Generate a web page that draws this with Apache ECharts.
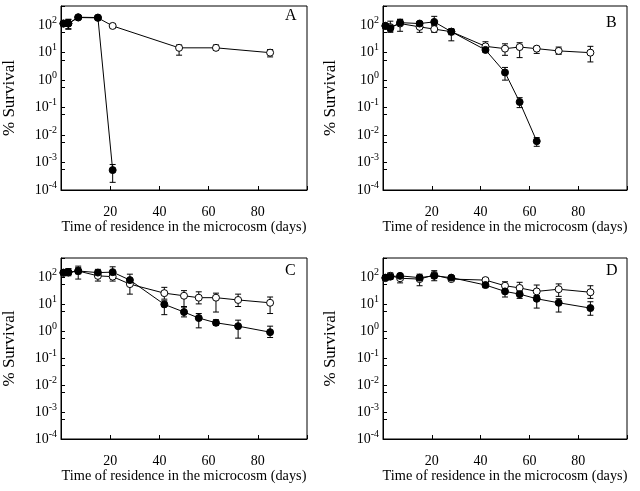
<!DOCTYPE html>
<html><head><meta charset="utf-8">
<script src="https://cdn.jsdelivr.net/npm/echarts@6/dist/echarts.min.js"></script>
<style>html,body{margin:0;padding:0;background:#fff}#c{width:640px;height:491px}</style>
</head><body><div id="c"></div>
<script>
// ---------- data ----------
const days = [1, 3, 7, 15, 21, 28, 42, 50, 56, 63, 72, 85];
const xTicks = [20, 40, 60, 80];
const yTickExponents = [-4, -3, -2, -1, 0, 1, 2];
const panelLetters = ['A', 'B', 'C', 'D'];

// Panel A
const aOpenDays = [1, 3, 7, 15, 21, 48, 63, 85];
const aOpen   = [115, 115, 190, 185, 94, 15, 15, 10];
const aOpenLo = [95, 75, 170, 160, 80, 8.1, 12, 7];
const aOpenHi = [135, 160, 210, 210, 110, 19, 19, 13];
const aFilledDays = [1, 3, 7, 15, 21];
const aFilled   = [115, 115, 195, 190, 5.3e-4];
const aFilledLo = [95, 71, 175, 165, 1.9e-4];
const aFilledHi = [135, 165, 215, 215, 8.5e-4];

// Panel B
const bOpen   = [95, 85, 115, 87, 72, 58, 17, 14, 16, 14, 11.6, 10];
const bOpenLo = [80, 55, 60, 55, 55, 27, 12, 8, 6.6, 9.4, 8.7, 4.6];
const bOpenHi = [115, 140, 160, 130, 100, 75, 25, 21, 23, 17, 16, 17];
const bFilledDays = [1, 3, 7, 15, 21, 28, 42, 50, 56, 63];
const bFilled   = [94, 78, 124, 115, 132, 58, 12.6, 1.9, 0.16, 0.006];
const bFilledLo = [80, 60, 100, 100, 100, 45, 10.5, 1.0, 0.1, 0.0039];
const bFilledHi = [110, 100, 165, 130, 210, 70, 15, 2.9, 0.23, 0.0081];

// Panel C
const cOpen   = [140, 145, 165, 109, 102, 54, 25, 20, 17, 17, 14, 11];
const cOpenLo = [120, 110, 83, 70, 70, 23, 15, 7.6, 10, 5, 8, 4.4];
const cOpenHi = [160, 200, 250, 140, 130, 80, 41, 31, 28, 25, 23, 18];
const cFilled   = [144, 150, 165, 144, 150, 76, 9.6, 5, 3.0, 2.0, 1.5, 0.9];
const cFilledLo = [125, 120, 130, 110, 110, 55, 4, 3.3, 1.3, 1.6, 0.54, 0.57];
const cFilledHi = [165, 200, 220, 190, 236, 126, 13, 8, 4.4, 2.6, 2.5, 1.5];

// Panel D
const dOpen   = [90, 110, 89, 83, 118, 83, 76, 47, 39, 29, 35, 27];
const dOpenLo = [75, 80, 60, 47, 90, 70, 65, 35, 29, 20, 19, 16];
const dOpenHi = [110, 140, 130, 126, 150, 100, 90, 66, 63, 50, 55, 47];
const dFilled   = [94, 102, 109, 94, 109, 94, 50, 29, 23, 15.5, 11, 7];
const dFilledLo = [80, 90, 95, 80, 72, 80, 40, 18, 16, 7, 5, 3.8];
const dFilledHi = [110, 120, 125, 110, 170, 110, 65, 41, 31, 20, 15.5, 12];

// ---------- layout ----------
const FONT = 'Liberation Serif';
const grids = [
  {left: 61, top: 6, width: 246, height: 184},
  {left: 383, top: 6, width: 244, height: 184},
  {left: 61, top: 258, width: 246, height: 181},
  {left: 383, top: 258, width: 244, height: 181}
];
const letterPos = [
  {left: 285, top: 8},
  {left: 606, top: 15},
  {left: 285, top: 263},
  {left: 606, top: 263}
];
const yNameGap = [43, 44, 43, 44];

const panels = [
  {od: aOpenDays, o: aOpen, ol: aOpenLo, oh: aOpenHi, fd: aFilledDays, f: aFilled, fl: aFilledLo, fh: aFilledHi},
  {od: days, o: bOpen, ol: bOpenLo, oh: bOpenHi, fd: bFilledDays, f: bFilled, fl: bFilledLo, fh: bFilledHi},
  {od: days, o: cOpen, ol: cOpenLo, oh: cOpenHi, fd: days, f: cFilled, fl: cFilledLo, fh: cFilledHi},
  {od: days, o: dOpen, ol: dOpenLo, oh: dOpenHi, fd: days, f: dFilled, fl: dFilledLo, fh: dFilledHi}
];

function errRender(params, api) {
  const x = api.value(0), lo = api.value(1), hi = api.value(2);
  const p1 = api.coord([x, lo]), p2 = api.coord([x, hi]);
  const w = 3;
  const st = {stroke: '#000', lineWidth: 1};
  return {type: 'group', children: [
    {type: 'line', shape: {x1: p1[0], y1: p1[1], x2: p2[0], y2: p2[1]}, style: st},
    {type: 'line', shape: {x1: p1[0] - w, y1: p1[1], x2: p1[0] + w, y2: p1[1]}, style: st},
    {type: 'line', shape: {x1: p2[0] - w, y1: p2[1], x2: p2[0] + w, y2: p2[1]}, style: st}
  ]};
}

const xAxes = [], yAxes = [], series = [], titles = [];
panels.forEach((p, i) => {
  xAxes.push({
    type: 'value', gridIndex: i, min: 0, max: 100, interval: 20,
    axisLine: {show: true, lineStyle: {color: '#000', width: 1}},
    axisTick: {show: true, inside: true, length: 4, lineStyle: {color: '#000'}},
    splitLine: {show: false},
    axisLabel: {
      margin: 15, color: '#000', fontFamily: FONT, fontSize: 14,
      formatter: v => xTicks.indexOf(v) >= 0 ? String(v) : ''
    },
    name: 'Time of residence in the microcosm (days)', nameLocation: 'middle', nameGap: 27,
    nameTextStyle: {color: '#000', fontFamily: FONT, fontSize: 14.3}
  });
  yAxes.push({
    type: 'log', logBase: 10, gridIndex: i, min: 1e-4, max: 500,
    axisLine: {show: true, lineStyle: {color: '#000', width: 1}},
    axisTick: {show: true, inside: true, length: 4, lineStyle: {color: '#000'}},
    minorTick: {show: true, splitNumber: 2, length: 4, lineStyle: {color: '#000'}},
    splitLine: {show: false}, minorSplitLine: {show: false},
    axisLabel: {
      margin: 4, showMaxLabel: false,
      formatter: v => {
        const e = Math.round(Math.log10(v));
        if (yTickExponents.indexOf(e) < 0 || Math.abs(Math.log10(v) - e) > 1e-6) return '';
        return '{b|10}{s|' + e + '}';
      },
      rich: {
        b: {fontFamily: FONT, fontSize: 14, color: '#000', lineHeight: 20},
        s: {fontFamily: FONT, fontSize: 10, color: '#000', lineHeight: 10, verticalAlign: 'top'}
      }
    },
    name: '% Survival', nameLocation: 'middle', nameGap: yNameGap[i],
    nameTextStyle: {color: '#000', fontFamily: FONT, fontSize: 17}
  });
  const errOpen = p.od.map((d, k) => [d, p.ol[k], p.oh[k]]);
  const errFilled = p.fd.map((d, k) => [d, p.fl[k], p.fh[k]]);
  series.push({type: 'custom', xAxisIndex: i, yAxisIndex: i, renderItem: errRender,
    data: errOpen, encode: {x: 0, y: [1, 2]}, z: 2, silent: true});
  series.push({type: 'custom', xAxisIndex: i, yAxisIndex: i, renderItem: errRender,
    data: errFilled, encode: {x: 0, y: [1, 2]}, z: 2, silent: true});
  series.push({type: 'line', xAxisIndex: i, yAxisIndex: i, z: 3,
    data: p.od.map((d, k) => [d, p.o[k]]),
    symbol: 'circle', symbolSize: 7, showSymbol: true,
    lineStyle: {color: '#000', width: 1},
    itemStyle: {color: '#fff', borderColor: '#000', borderWidth: 1}});
  series.push({type: 'line', xAxisIndex: i, yAxisIndex: i, z: 4,
    data: p.fd.map((d, k) => [d, p.f[k]]),
    symbol: 'circle', symbolSize: 7, showSymbol: true,
    lineStyle: {color: '#000', width: 1},
    itemStyle: {color: '#000', borderColor: '#000', borderWidth: 1}});
  titles.push({text: panelLetters[i], left: letterPos[i].left, top: letterPos[i].top, padding: 0,
    textStyle: {fontFamily: FONT, fontSize: 16, fontWeight: 'normal', color: '#000'}});
});

const chart = echarts.init(document.getElementById('c'), null, {renderer: 'canvas'});
chart.setOption({
  animation: false,
  backgroundColor: '#fff',
  title: titles,
  grid: grids.map(g => Object.assign({show: true, borderColor: '#000', borderWidth: 1, backgroundColor: 'transparent'}, g)),
  xAxis: xAxes,
  yAxis: yAxes,
  series: series
});
</script>
</body></html>
